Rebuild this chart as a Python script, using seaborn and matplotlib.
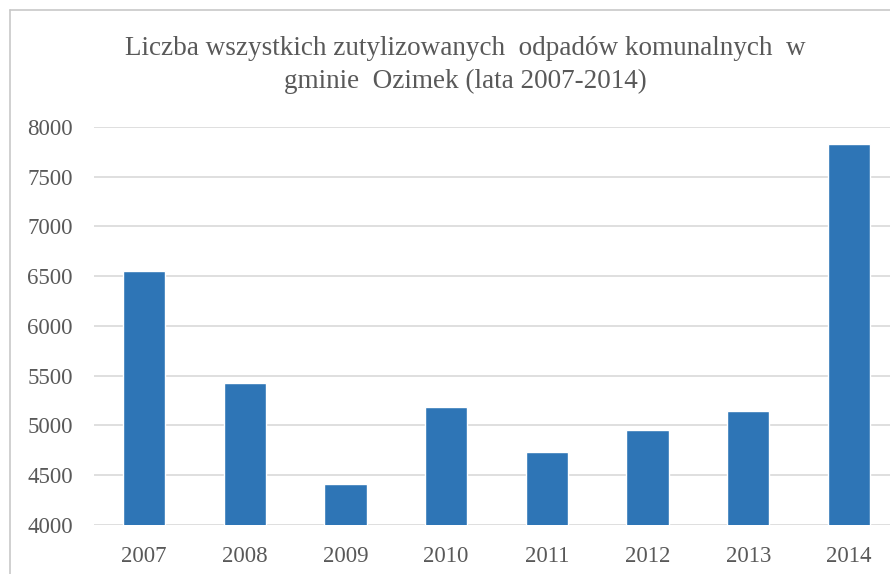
import matplotlib.pyplot as plt
import pandas as pd
import seaborn as sns
from matplotlib.lines import Line2D

# Data
years = ['2007', '2008', '2009', '2010', '2011', '2012', '2013', '2014']
values = [6550, 5430, 4415, 5185, 4735, 4957, 5148, 7830]
y_ticks = [4000, 4500, 5000, 5500, 6000, 6500, 7000, 7500, 8000]

df = pd.DataFrame({'year': years, 'value': values})

sns.set_theme(style="white")
plt.rcParams['font.family'] = ['Liberation Serif', 'DejaVu Serif']

fig = plt.figure(figsize=(8.9, 5.74), dpi=100)
ax = fig.add_axes([0.1052, 0.0854, 0.9054, 0.6934])

sns.barplot(data=df, x='year', y='value', color='#2E75B6', saturation=1,
            width=0.42, ax=ax, zorder=3)

ax.set_ylim(4000, 8000)
ax.set_yticks(y_ticks)
ax.yaxis.grid(True, color='#d9d9d9', linewidth=1.2, zorder=0)
ax.set_axisbelow(True)
sns.despine(ax=ax, left=True, top=True, right=True, bottom=True)
ax.set_xlabel('')
ax.set_ylabel('')
ax.tick_params(axis='both', length=0, labelsize=16.5, labelcolor='#595959')
ax.tick_params(axis='y', pad=15)
ax.tick_params(axis='x', pad=15)

fig.text(0.5225, 0.887, 'Liczba wszystkich zutylizowanych  odpadów komunalnych  w\ngminie  Ozimek (lata 2007-2014)',
         ha='center', va='center', fontsize=19.5, color='#595959', linespacing=1.38)

# outer chart frame (top and left edges visible)
fig.add_artist(Line2D([10 / 890, 1], [1 - 10 / 574, 1 - 10 / 574], color='#c8c8c8', lw=1.2))
fig.add_artist(Line2D([10 / 890, 10 / 890], [0, 1 - 10 / 574], color='#c8c8c8', lw=1.2))

fig.savefig('out.png', dpi=100)
